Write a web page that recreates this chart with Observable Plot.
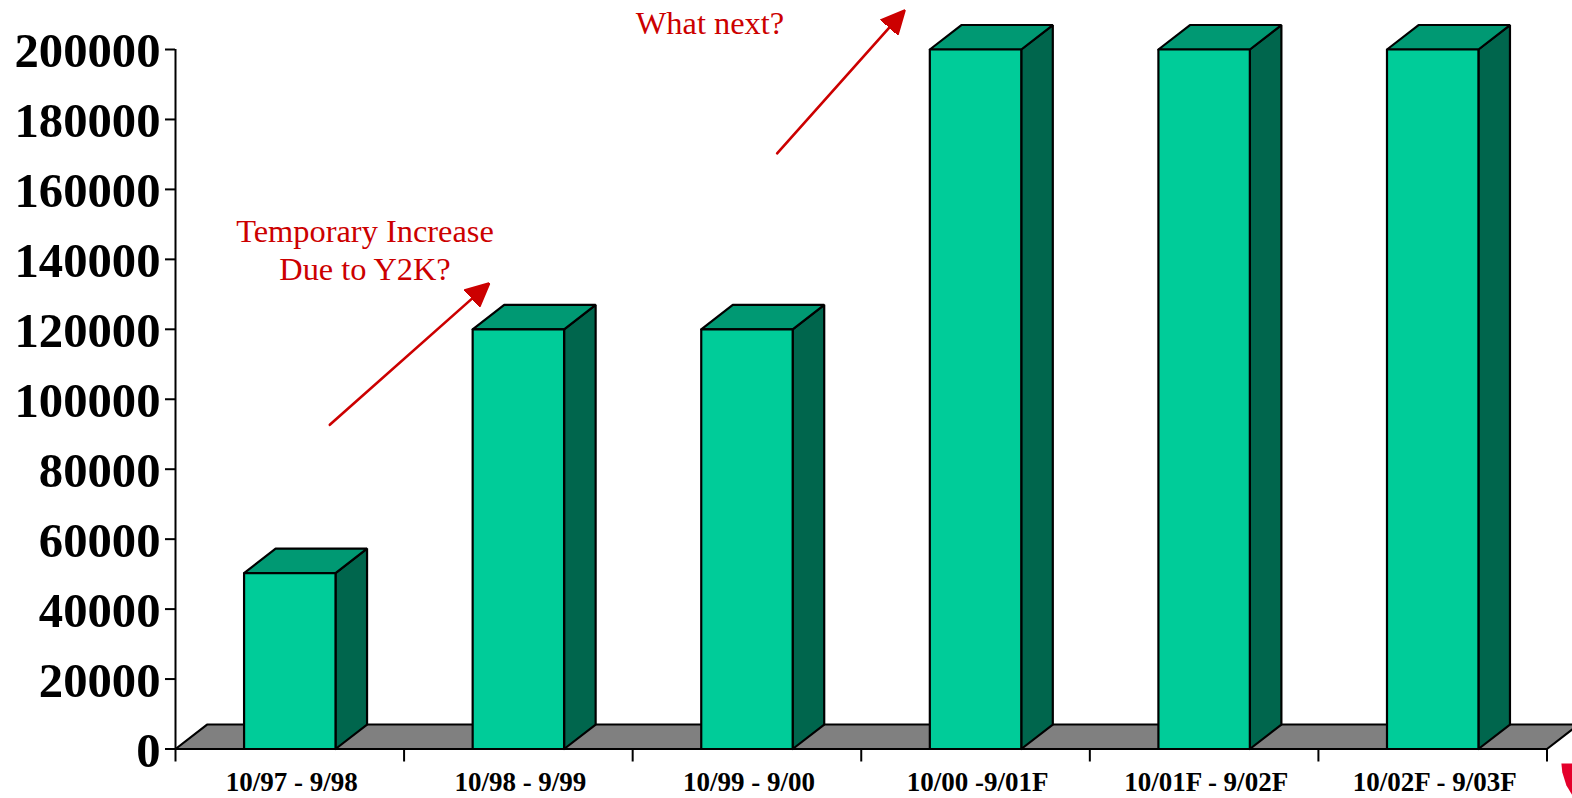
<!DOCTYPE html>
<html>
<head>
<meta charset="utf-8">
<style>html,body{margin:0;padding:0;background:#fff;overflow:hidden}svg{display:block}</style>
<script src="https://cdn.jsdelivr.net/npm/d3@7"></script>
<script src="https://cdn.jsdelivr.net/npm/@observablehq/plot@0.6"></script>
</head>
<body>
<div id="chart"></div>
<script>
const periods = ["10/97 - 9/98","10/98 - 9/99","10/99 - 9/00","10/00 -9/01F","10/01F - 9/02F","10/02F - 9/03F"];
const values = [50300,120000,120000,200000,200000,200000];
const yTicks = [0,20000,40000,60000,80000,100000,120000,140000,160000,180000,200000];
const arrowStartX = [0.675,2.632];
const arrowStartY = [92700,170300];
const arrowEndX = [1.365,3.183];
const arrowEndY = [132700,210700];
const noteText = ["Temporary Increase\nDue to Y2K?","What next?"];
const noteX = [0.829,2.338];
const noteY = [143100,208000];
const logoX = [6.063,6.111,6.111,6.085,6.067];
const logoY = [-4146,-4146,-13295,-10436,-6720];

const halfBar = 0.2, depthX = 0.138, depthY = 7000;
const FRONT="#00cc99", TOP="#009973", SIDE="#00664d", FLOOR="#808080", RED="#cc0000", LOGO="#e4002b";

function poly(key, pts, fill){return pts.concat([pts[0]]).map(([x,y])=>({key,x,y,fill}));}
const faces=[];
periods.forEach((_,i)=>{
  const l=i+.5-halfBar, r=i+.5+halfBar, v=values[i];
  faces.push(...poly("side"+i,[[r,0],[r+depthX,depthY],[r+depthX,v+depthY],[r,v]],SIDE));
  faces.push(...poly("top"+i,[[l,v],[l+depthX,v+depthY],[r+depthX,v+depthY],[r,v]],TOP));
  faces.push(...poly("front"+i,[[l,0],[r,0],[r,v],[l,v]],FRONT));
});
const floor=poly("floor",[[0,0],[6,0],[6+depthX,depthY],[depthX,depthY]],FLOOR);
const logo=poly("logo",logoX.map((x,i)=>[x,logoY[i]]),LOGO);
const arrows=[];
arrowStartX.forEach((_,i)=>{
  arrows.push({key:i,x:arrowStartX[i],y:arrowStartY[i]},{key:i,x:arrowEndX[i],y:arrowEndY[i]});
});
const notes=noteText.map((t,i)=>({t,x:noteX[i],y:noteY[i]}));
const redHead=(color)=>{
  const m=d3.create("svg:marker")
    .attr("viewBox","0 -12 24 24").attr("markerWidth",24).attr("markerHeight",24)
    .attr("markerUnits","userSpaceOnUse").attr("refX",21).attr("refY",0).attr("orient","auto");
  m.append("path").attr("d","M0,-11L23,0L0,11Z").attr("fill",color);
  return m.node();
};
const SERIF='"Liberation Serif","Times New Roman",serif';

const chart=Plot.plot({
  width:1572,height:798,
  marginLeft:175,marginRight:25.5,marginTop:49,marginBottom:49.5,
  style:{fontFamily:SERIF,background:"#fff",overflow:"visible"},
  x:{type:"linear",domain:[0,6],label:null},
  y:{domain:[0,200000],label:null},
  marks:[
    Plot.line(logo,{x:"x",y:"y",z:"key",fill:"fill",stroke:null,curve:"linear"}),
    Plot.line(floor,{x:"x",y:"y",z:"key",fill:"fill",stroke:"#000",strokeWidth:2.2,curve:"linear",strokeLinejoin:"miter"}),
    Plot.line(faces,{x:"x",y:"y",z:"key",fill:"fill",stroke:"#000",strokeWidth:2.2,curve:"linear",strokeLinejoin:"miter"}),
    Plot.ruleX([0],{y1:0,y2:200000,stroke:"#000",strokeWidth:2}),
    Plot.ruleY([0],{x1:0,x2:6,stroke:"#000",strokeWidth:2.2}),
    Plot.axisY({ticks:yTicks,tickFormat:()=>"",tickSize:10,stroke:"#000",strokeWidth:2,label:null,anchor:"left"}),
    Plot.axisY({ticks:yTicks,tickFormat:d=>String(d),tickSize:0,tickPadding:15,dy:2,fontSize:48.7,fontWeight:"bold",fill:"#000",label:null,anchor:"left"}),
    Plot.axisX({ticks:[0,1,2,3,4,5,6],tickFormat:()=>"",tickSize:13,stroke:"#000",strokeWidth:2,label:null,anchor:"bottom"}),
    Plot.axisX({ticks:periods.map((_,i)=>i+.5),tickFormat:d=>periods[Math.floor(d)],tickSize:0,tickPadding:23,dx:2,fontSize:27,fontWeight:"bold",fill:"#000",label:null,anchor:"bottom"}),
    Plot.line(arrows,{x:"x",y:"y",z:"key",stroke:RED,strokeWidth:2.6,markerEnd:redHead}),
    Plot.text(notes,{x:"x",y:"y",text:"t",fill:RED,fontSize:32.4,lineHeight:1.2,textAnchor:"middle"})
  ]
});
document.getElementById("chart").appendChild(chart);
</script>
</body>
</html>
